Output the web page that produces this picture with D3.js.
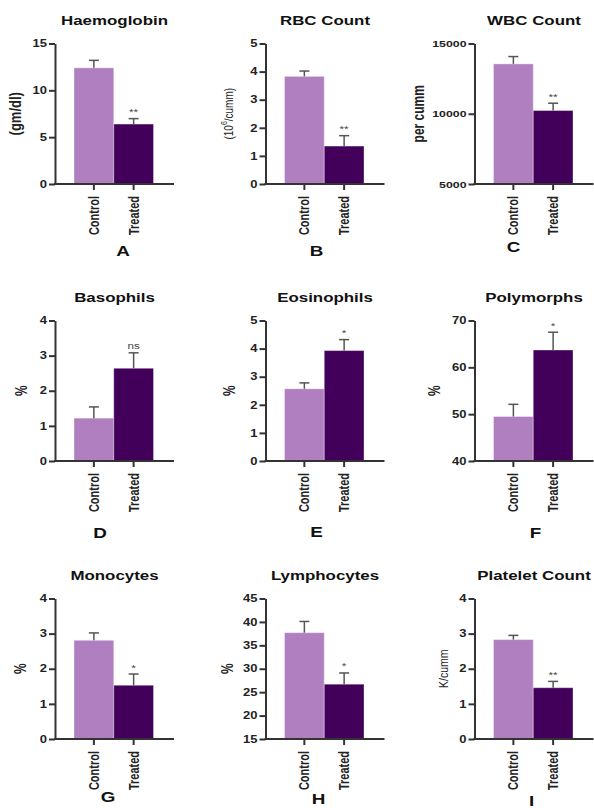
<!DOCTYPE html>
<html>
<head>
<meta charset="utf-8">
<script src="https://cdn.jsdelivr.net/npm/d3@7"></script>
<style>
    body{ margin: 0; background: #fff; }
    svg text{ font-family: "Liberation Sans", Arial, sans-serif; }
</style>
</head>
<body>
<div class="graph"></div>
<script>

//Data
const titles = ["Haemoglobin", "RBC Count", "WBC Count", "Basophils", "Eosinophils", "Polymorphs", "Monocytes", "Lymphocytes", "Platelet Count"];
const letters = ["A", "B", "C", "D", "E", "F", "G", "H", "I"];
const yLabels = ["(gm/dl)", "(10^6/cumm)", "per cumm", "%", "%", "%", "%", "%", "K/cumm"];
const categories = ["Control", "Treated"];
const controlMean = [12.4, 3.83, 13550, 1.22, 2.57, 49.5, 2.81, 37.7, 2.83];
const controlSem = [0.8, 0.19, 520, 0.32, 0.21, 2.6, 0.21, 2.4, 0.12];
const treatedMean = [6.4, 1.35, 10230, 2.64, 3.93, 63.7, 1.53, 26.7, 1.46];
const treatedSem = [0.58, 0.37, 520, 0.44, 0.39, 3.8, 0.32, 2.4, 0.18];
const significance = ["**", "**", "**", "ns", "*", "*", "*", "*", "**"];
const yDomains = [[0, 15], [0, 5], [5000, 15000], [0, 4], [0, 5], [40, 70], [0, 4], [15, 45], [0, 4]];
const yTicks = [
    [0, 5, 10, 15],
    [0, 1, 2, 3, 4, 5],
    [5000, 10000, 15000],
    [0, 1, 2, 3, 4],
    [0, 1, 2, 3, 4, 5],
    [40, 50, 60, 70],
    [0, 1, 2, 3, 4],
    [15, 20, 25, 30, 35, 40, 45],
    [0, 1, 2, 3, 4]
];

//Layout
const colX = [55, 265.5, 474.5];
const rowTop = [43.5, 320.5, 598.5];
const plotW = 119;
const plotH = 140.5;
const stretch = "scale(1.3,1)";
const yLabelOffset = [40, 37.5, 56, 33, 35.5, 40, 34, 38, 31];
const letterDx = [68, 51, 39, 45, 51, 61, 53, 53, 57];
const letterDy = [71.5, 72, 67.5, 76.5, 75.5, 76.5, 63, 64.5, 67];
const colors = ["#b07fc0", "#43005a"];

const svg = d3.select(".graph").append("svg")
    .attr("width", 594)
    .attr("height", 808);

function drawPanel(i){
    const g = svg.append("g")
        .attr("transform", "translate(" + colX[i % 3] + "," + rowTop[Math.floor(i / 3)] + ")");

    //Scales
    const x = d3.scaleBand()
        .domain(categories)
        .range([19, 98.5])
        .padding(0);

    const y = d3.scaleLinear()
        .domain(yDomains[i])
        .range([plotH, 0]);

    const rows = categories.map(function(c, k){
        return {
            cat: c,
            mean: k == 0 ? controlMean[i] : treatedMean[i],
            sem: k == 0 ? controlSem[i] : treatedSem[i],
            color: colors[k]
        };
    });

    //Bars
    g.selectAll(".bar")
        .data(rows)
        .enter().append("rect")
        .attr("class", "bar")
        .attr("x", d => x(d.cat))
        .attr("y", d => y(d.mean))
        .attr("width", x.bandwidth())
        .attr("height", d => plotH - y(d.mean))
        .attr("fill", d => d.color)
        .attr("stroke", "rgba(255,255,255,0.35)")
        .attr("stroke-width", 1);

    //Error bars
    const err = g.selectAll(".err")
        .data(rows)
        .enter().append("g")
        .attr("class", "err")
        .attr("stroke", "#555")
        .attr("stroke-width", 1.5);

    err.append("line")
        .attr("x1", d => x(d.cat) + x.bandwidth() / 2)
        .attr("x2", d => x(d.cat) + x.bandwidth() / 2)
        .attr("y1", d => y(d.mean))
        .attr("y2", d => y(d.mean + d.sem));

    err.append("line")
        .attr("x1", d => x(d.cat) + x.bandwidth() / 2 - 5)
        .attr("x2", d => x(d.cat) + x.bandwidth() / 2 + 5)
        .attr("y1", d => y(d.mean + d.sem))
        .attr("y2", d => y(d.mean + d.sem));

    //Significance mark
    const t = rows[1];
    g.append("text")
        .attr("transform", "translate(" + (x(t.cat) + x.bandwidth() / 2) + "," + (y(t.mean + t.sem) - 3.5) + ") " + stretch)
        .attr("text-anchor", "middle")
        .attr("font-size", 9)
        .attr("fill", "#444")
        .text(significance[i]);

    //Y axis
    const yAxis = g.append("g")
        .call(d3.axisLeft(y).tickValues(yTicks[i]).tickFormat(d3.format("d"))
            .tickSize(6).tickPadding(2).tickSizeOuter(0));

    yAxis.select(".domain").attr("stroke", "#333").attr("stroke-width", 2);
    yAxis.selectAll(".tick line").attr("stroke", "#333").attr("stroke-width", 2);
    yAxis.selectAll(".tick text")
        .attr("x", 0)
        .attr("transform", "translate(-8,0) " + stretch)
        .attr("font-size", i == 2 ? 9.5 : 10)
        .attr("font-weight", "bold")
        .attr("font-family", null)
        .attr("fill", "#222");

    //X axis
    const xAxis = g.append("g")
        .attr("transform", "translate(0," + plotH + ")")
        .call(d3.axisBottom(x).tickSize(6).tickSizeOuter(0));

    xAxis.select(".domain")
        .attr("d", "M-1,0H" + plotW)
        .attr("stroke", "#333")
        .attr("stroke-width", 2);
    xAxis.selectAll(".tick line").attr("stroke", "#333").attr("stroke-width", 2);
    xAxis.selectAll(".tick text")
        .attr("y", 0)
        .attr("dy", "0.35em")
        .attr("text-anchor", "end")
        .attr("transform", "translate(0,12) " + stretch + " rotate(-90)")
        .attr("font-size", 11)
        .attr("font-weight", "bold")
        .attr("font-family", null)
        .attr("fill", "#222");

    //Title
    g.append("text")
        .attr("transform", "translate(" + plotW / 2 + ",-19) " + stretch)
        .attr("text-anchor", "middle")
        .attr("font-size", 13)
        .attr("font-weight", "bold")
        .attr("fill", "#111")
        .text(titles[i]);

    //Y label
    const yl = g.append("text")
        .attr("transform", "translate(" + (-yLabelOffset[i]) + "," + plotH / 2 + ") " + stretch + " rotate(-90)")
        .attr("text-anchor", "middle")
        .attr("dy", "0.35em")
        .attr("fill", "#222");

    if(yLabels[i].indexOf("^") > -1){
        const parts = yLabels[i].split(/\^(\d)/);
        yl.attr("font-size", 10);
        yl.append("tspan").text(parts[0]);
        yl.append("tspan").attr("dy", -4).attr("font-size", 7).text(parts[1]);
        yl.append("tspan").attr("dy", 4).text(parts[2]);
    }else if(yLabels[i] == "K/cumm"){
        yl.attr("font-size", 10.5).text(yLabels[i]);
    }else{
        yl.attr("font-size", yLabels[i] == "(gm/dl)" ? 13 : 12)
            .attr("font-weight", "bold")
            .text(yLabels[i]);
    }

    //Panel letter
    g.append("text")
        .attr("transform", "translate(" + letterDx[i] + "," + (plotH + letterDy[i]) + ") " + stretch)
        .attr("text-anchor", "middle")
        .attr("font-size", 14.5)
        .attr("font-weight", "bold")
        .attr("fill", "#111")
        .text(letters[i]);
}

for(let i = 0; i < titles.length; i++){
    drawPanel(i);
}
</script>
</body>
</html>
